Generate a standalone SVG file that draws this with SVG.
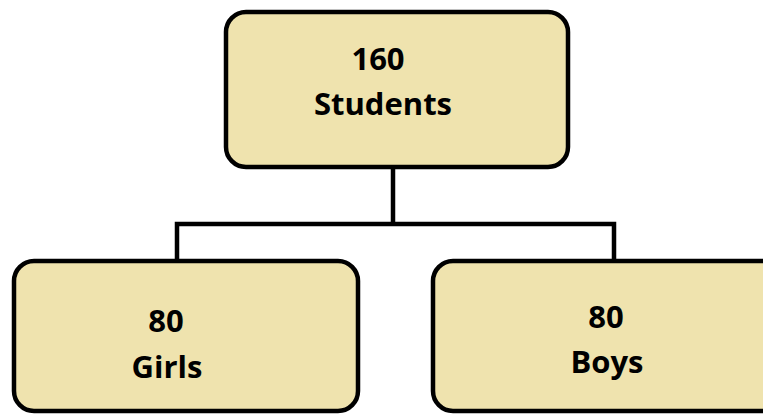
<svg xmlns="http://www.w3.org/2000/svg" width="763" height="414" viewBox="0 0 763 414">
<style>
.box{fill:#EFE3AE;stroke:#000;stroke-width:4.5}
.t{font-family:"Open Sans","Liberation Sans",sans-serif;font-weight:bold;font-size:31px;fill:#000;text-anchor:middle}
.c{fill:none;stroke:#000;stroke-width:4.5}
</style>
<rect width="763" height="414" fill="#fff"/>
<g id="connectors">
<polyline class="c" points="393,167 393,224"/>
<polyline class="c" points="177,261 177,224 614,224 614,261"/>
</g>
<g id="students">
<rect class="box" x="226" y="12" width="342" height="155" rx="20"/>
<text class="t" x="378" y="70">160</text>
<text class="t" x="383" y="115">Students</text>
</g>
<g id="girls">
<rect class="box" x="14" y="261" width="344" height="150" rx="20"/>
<text class="t" x="166" y="332">80</text>
<text class="t" x="167" y="378">Girls</text>
</g>
<g id="boys">
<rect class="box" x="433" y="261" width="360" height="150" rx="20"/>
<text class="t" x="606" y="328">80</text>
<text class="t" x="607" y="373">Boys</text>
</g>
</svg>
